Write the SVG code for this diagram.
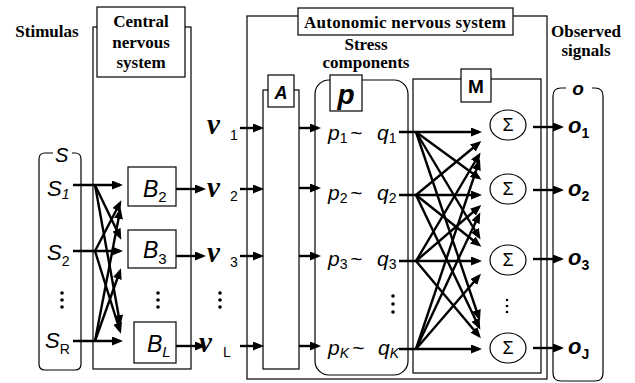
<svg xmlns="http://www.w3.org/2000/svg" width="635" height="383" viewBox="0 0 635 383">
<style>
.box{fill:none;stroke:#000;stroke-width:1.2}
.lbl{fill:#fff;stroke:#000;stroke-width:1.2}
.ttl{font-family:"Liberation Serif","Times New Roman",serif;font-weight:bold;font-size:17px;fill:#000;text-anchor:middle}
.mi{font-family:"Liberation Sans",Arial,sans-serif;font-style:italic;font-size:21px;fill:#000}
.bi{font-family:"Liberation Sans",Arial,sans-serif;font-style:italic;font-weight:bold;fill:#000}
.bu{font-family:"Liberation Sans",Arial,sans-serif;font-weight:bold;fill:#000}
.sb{font-size:14px;font-style:normal}
.sbi{font-size:14px;font-style:italic}
.nu{font-family:"Liberation Serif","Times New Roman",serif;font-style:italic;font-weight:bold;font-size:29px;fill:#000}
.ns{font-family:"Liberation Sans",Arial,sans-serif;font-size:14px;font-style:normal;font-weight:normal}
.sig{font-family:"Liberation Sans",Arial,sans-serif;font-size:18px;fill:#000;text-anchor:middle}
.ar{stroke:#000;stroke-width:2.4;fill:none;marker-end:url(#ah)}
.dot{fill:#000}
</style>
<defs>
<marker id="ah" markerUnits="userSpaceOnUse" markerWidth="11" markerHeight="9" refX="8" refY="4.5" orient="auto">
<path d="M0,0 L11,4.5 L0,9 z" fill="#000"/>
</marker>
</defs>
<rect x="0" y="0" width="635" height="383" fill="#fff"/>

<text class="ttl" x="47" y="37">Stimulas</text>

<g id="stimulus-set">
<path class="box" d="M53,153 L45,153 Q39,153 39,159 L39,364 Q39,370 45,370 L75,370 Q81,370 81,364 L81,159 Q81,153 75,153 L72,153"/>
<text class="mi" x="55" y="162" style="font-size:20px">S</text>
<text class="mi" x="47" y="196" style="font-size:22px">S<tspan class="sbi" dy="3">1</tspan></text>
<text class="mi" x="47" y="260" style="font-size:22px">S<tspan class="sb" dy="6">2</tspan></text>
<text class="mi" x="45" y="348" style="font-size:22px">S<tspan class="sb" dy="6">R</tspan></text>
<circle class="dot" cx="62" cy="293" r="1.8"/><circle class="dot" cx="62" cy="300" r="1.8"/><circle class="dot" cx="62" cy="307" r="1.8"/>
</g>

<g id="cns">
<rect class="box" x="93" y="27" width="98" height="342"/>
<rect class="lbl" x="97" y="7" width="88" height="70"/>
<text class="ttl" x="141" y="27">Central</text>
<text class="ttl" x="141" y="48">nervous</text>
<text class="ttl" x="141" y="68">system</text>
</g>

<g id="B2"><rect class="box" x="128" y="167" width="48" height="39"/>
<text class="mi" x="143" y="197" style="font-size:23px">B<tspan class="sb" style="font-size:15px" dy="5">2</tspan></text></g>
<g id="B3"><rect class="box" x="128" y="230" width="48" height="38"/>
<text class="mi" x="143" y="258" style="font-size:23px">B<tspan class="sb" style="font-size:15px" dy="6">3</tspan></text></g>
<g id="BL"><rect class="box" x="134" y="322" width="42" height="41"/>
<text class="mi" x="147" y="352" style="font-size:23px">B<tspan class="sbi" style="font-size:15px" dy="5">L</tspan></text></g>
<g id="B-dots"><circle class="dot" cx="158" cy="293" r="1.8"/><circle class="dot" cx="158" cy="300" r="1.8"/><circle class="dot" cx="158" cy="307" r="1.8"/></g>

<g id="nu-labels">
<text class="nu" x="207" y="134">ν<tspan class="ns" x="230" dy="6">1</tspan></text>
<text class="nu" x="207" y="197">ν<tspan class="ns" x="230" dy="4">2</tspan></text>
<text class="nu" x="207" y="262">ν<tspan class="ns" x="230" dy="5">3</tspan></text>
<text class="nu" x="199" y="352">ν<tspan class="ns" x="223" dy="5">L</tspan></text>
<circle class="dot" cx="220" cy="293" r="1.8"/><circle class="dot" cx="220" cy="300" r="1.8"/><circle class="dot" cx="220" cy="307" r="1.8"/>
</g>

<g id="ans">
<rect class="box" x="247" y="16" width="300" height="363"/>
<rect class="lbl" x="298" y="8" width="215" height="27"/>
<text class="ttl" x="405" y="28" textLength="202" lengthAdjust="spacing">Autonomic nervous  system</text>
<text class="ttl" x="366" y="50">Stress</text>
<text class="ttl" x="366" y="68">components</text>
</g>

<g id="A">
<rect class="box" x="263" y="90" width="36" height="279"/>
<rect class="lbl" x="268" y="75" width="26" height="32"/>
<text class="bi" x="281" y="99" style="font-size:18px" text-anchor="middle">A</text>
</g>

<g id="p">
<rect class="box" x="315" y="80" width="93" height="295" rx="14"/>
<rect class="lbl" x="330" y="75" width="32" height="36"/>
<text class="bi" x="346" y="104" style="font-size:28px" text-anchor="middle">p</text>
<text class="mi" x="328" y="140">p<tspan class="sb" dy="3">1</tspan><tspan x="350" dy="-3">~</tspan><tspan x="377">q</tspan><tspan class="sb" dy="3">1</tspan></text>
<text class="mi" x="328" y="200">p<tspan class="sb" dy="3">2</tspan><tspan x="350" dy="-3">~</tspan><tspan x="377">q</tspan><tspan class="sb" dy="3">2</tspan></text>
<text class="mi" x="328" y="266">p<tspan class="sb" dy="3">3</tspan><tspan x="350" dy="-3">~</tspan><tspan x="377">q</tspan><tspan class="sb" dy="3">3</tspan></text>
<text class="mi" x="328" y="355">p<tspan class="sbi" dy="3">K</tspan><tspan x="352" dy="-3">~</tspan><tspan x="378">q</tspan><tspan class="sbi" dy="3">K</tspan></text>
<circle class="dot" cx="393" cy="296" r="1.8"/><circle class="dot" cx="393" cy="304" r="1.8"/><circle class="dot" cx="393" cy="312" r="1.8"/>
</g>

<g id="M">
<rect class="box" x="413" y="79" width="128" height="294"/>
<rect class="lbl" x="461" y="69" width="30" height="33"/>
<text class="bu" x="476" y="93" style="font-size:19px" text-anchor="middle">M</text>
</g>

<g id="sum1"><ellipse class="box" cx="508" cy="125" rx="18" ry="15"/><text class="sig" x="508" y="131">Σ</text></g>
<g id="sum2"><ellipse class="box" cx="508" cy="189" rx="18" ry="15"/><text class="sig" x="508" y="195">Σ</text></g>
<g id="sum3"><ellipse class="box" cx="508" cy="260" rx="18" ry="15"/><text class="sig" x="508" y="266">Σ</text></g>
<g id="sumJ"><ellipse class="box" cx="508" cy="348" rx="18" ry="15"/><text class="sig" x="508" y="354">Σ</text></g>
<g id="sum-dots"><circle class="dot" cx="507" cy="300" r="1.3"/><circle class="dot" cx="507" cy="306" r="1.3"/><circle class="dot" cx="507" cy="312" r="1.3"/></g>

<text class="ttl" x="586" y="37">Observed</text>
<text class="ttl" x="586" y="56">signals</text>

<g id="observed">
<path class="box" d="M566,88 L561,88 Q553,88 553,96 L553,373 Q553,381 561,381 L595,381 Q603,381 603,373 L603,96 Q603,88 595,88 L592,88"/>
<text class="bi" x="578" y="95" style="font-size:19px" text-anchor="middle">o</text>
<text class="bi" x="568" y="133" style="font-size:22px">o<tspan class="sb" dy="5">1</tspan></text>
<text class="bi" x="568" y="196" style="font-size:22px">o<tspan class="sb" dy="5">2</tspan></text>
<text class="bi" x="568" y="265" style="font-size:22px">o<tspan class="sb" dy="5">3</tspan></text>
<text class="bi" x="568" y="354" style="font-size:22px">o<tspan class="sb" dy="5">J</tspan></text>
</g>

<g id="connectors">
<line class="ar" x1="73" y1="185" x2="120" y2="185"/>
<line class="ar" x1="73" y1="251" x2="120" y2="251"/>
<line class="ar" x1="73" y1="341" x2="120" y2="341"/>
<line class="ar" x1="95" y1="185" x2="120" y2="237"/>
<line class="ar" x1="95" y1="185" x2="120" y2="323"/>
<line class="ar" x1="95" y1="251" x2="120" y2="203"/>
<line class="ar" x1="95" y1="251" x2="120" y2="331"/>
<line class="ar" x1="95" y1="341" x2="120" y2="211"/>
<line class="ar" x1="95" y1="341" x2="120" y2="271"/>

<line class="ar" x1="176" y1="189" x2="203" y2="189"/>
<line class="ar" x1="176" y1="256" x2="203" y2="256"/>
<line class="ar" x1="176" y1="346" x2="203" y2="346"/>

<line class="ar" x1="240" y1="128" x2="261" y2="128"/>
<line class="ar" x1="240" y1="189" x2="261" y2="189"/>
<line class="ar" x1="240" y1="256" x2="261" y2="256"/>
<line class="ar" x1="240" y1="346" x2="261" y2="346"/>

<line class="ar" x1="299" y1="128" x2="318" y2="128"/>
<line class="ar" x1="299" y1="188" x2="318" y2="188"/>
<line class="ar" x1="299" y1="256" x2="318" y2="256"/>
<line class="ar" x1="299" y1="346" x2="318" y2="346"/>

<line class="ar" x1="399" y1="132" x2="479" y2="132"/>
<line class="ar" x1="399" y1="195" x2="479" y2="195"/>
<line class="ar" x1="399" y1="261" x2="479" y2="261"/>
<line class="ar" x1="399" y1="349" x2="479" y2="349"/>
<line class="ar" x1="416" y1="132" x2="479" y2="178"/>
<line class="ar" x1="416" y1="132" x2="479" y2="237"/>
<line class="ar" x1="416" y1="132" x2="479" y2="318"/>
<line class="ar" x1="416" y1="195" x2="479" y2="143"/>
<line class="ar" x1="416" y1="195" x2="479" y2="245"/>
<line class="ar" x1="416" y1="195" x2="479" y2="327"/>
<line class="ar" x1="416" y1="261" x2="479" y2="155"/>
<line class="ar" x1="416" y1="261" x2="479" y2="207"/>
<line class="ar" x1="416" y1="261" x2="479" y2="336"/>
<line class="ar" x1="416" y1="349" x2="479" y2="162"/>
<line class="ar" x1="416" y1="349" x2="479" y2="215"/>
<line class="ar" x1="416" y1="349" x2="479" y2="276"/>

<line class="ar" x1="533" y1="127" x2="561" y2="127"/>
<line class="ar" x1="533" y1="190" x2="561" y2="190"/>
<line class="ar" x1="533" y1="259" x2="561" y2="259"/>
<line class="ar" x1="533" y1="348" x2="561" y2="348"/>
</g>
</svg>
